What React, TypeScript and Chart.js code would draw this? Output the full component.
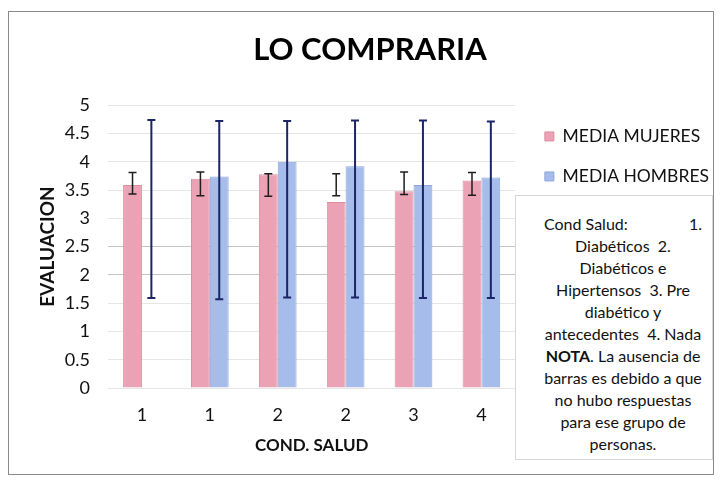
import React, { useEffect, useRef } from "react";
import { Chart, registerables } from "chart.js";

Chart.register(...registerables);

const categories = ["1", "1", "2", "2", "3", "4"];
const mediaMujeres = [3.59, 3.7, 3.78, 3.29, 3.48, 3.67];
const mediaHombres: (number | null)[] = [null, 3.74, 4.0, 3.92, 3.59, 3.72];
const errMujeresLow = [3.43, 3.4, 3.39, 3.4, 3.42, 3.41];
const errMujeresHigh = [3.81, 3.82, 3.79, 3.79, 3.82, 3.81];
const errHombresLow = [1.59, 1.57, 1.6, 1.6, 1.59, 1.59];
const errHombresHigh = [4.74, 4.72, 4.72, 4.73, 4.73, 4.71];
const yTicks = [0, 0.5, 1, 1.5, 2, 2.5, 3, 3.5, 4, 4.5, 5];

const FONT = "Lato, 'Open Sans', sans-serif";

const errorBarPlugin = {
  id: "errorBars",
  afterDatasetsDraw(chart: any) {
    const ctx = chart.ctx;
    const yScale = chart.scales.y;
    const xScale = chart.scales.x;
    const sets = [
      { low: errMujeresLow, high: errMujeresHigh, color: "#1e1e1e", width: 1.5 },
      { low: errHombresLow, high: errHombresHigh, color: "#1c2566", width: 2 },
    ];
    sets.forEach((s, di) => {
      const meta = chart.getDatasetMeta(di);
      s.low.forEach((lo, j) => {
        const el = meta.data[j];
        let x = el && isFinite(el.x) ? el.x : NaN;
        if (!isFinite(x)) {
          const w = el && isFinite(el.width) ? el.width : 19;
          x = xScale.getPixelForValue(j) + (di === 0 ? -w / 2 : w / 2);
        }
        const yLo = yScale.getPixelForValue(lo);
        const yHi = yScale.getPixelForValue(s.high[j]);
        ctx.save();
        ctx.strokeStyle = s.color;
        ctx.lineWidth = s.width;
        ctx.beginPath();
        ctx.moveTo(x, yLo);
        ctx.lineTo(x, yHi);
        ctx.moveTo(x - 4, yLo);
        ctx.lineTo(x + 4, yLo);
        ctx.moveTo(x - 4, yHi);
        ctx.lineTo(x + 4, yHi);
        ctx.stroke();
        ctx.restore();
      });
    });
  },
};

export default function App() {
  const ref = useRef<HTMLCanvasElement | null>(null);
  useEffect(() => {
    if (!ref.current) return;
    const chart = new Chart(ref.current, {
      type: "bar",
      data: {
        labels: categories,
        datasets: [
          {
            label: "MEDIA MUJERES",
            data: mediaMujeres,
            backgroundColor: "#eba2b4",
            borderColor: "#d98ea1",
            borderWidth: 1,
            yAxisID: "y",
          },
          {
            label: "MEDIA HOMBRES",
            data: mediaHombres,
            backgroundColor: "#a6bdeb",
            borderColor: "#8da6da",
            borderWidth: 1,
            yAxisID: "y",
          },
        ],
      },
      options: {
        responsive: false,
        animation: false,
        devicePixelRatio: 1,
        layout: { padding: { left: 21, right: 1, top: 12, bottom: 20 } },
        datasets: { bar: { categoryPercentage: 0.555, barPercentage: 1 } },
        plugins: {
          title: {
            display: true,
            text: "LO COMPRARIA",
            color: "#000",
            font: { family: FONT, size: 31, weight: "bold" },
            padding: { top: 19, bottom: 37 },
          },
          legend: {
            position: "right",
            align: "start",
            fullSize: false,
            maxWidth: 240,
            labels: {
              boxWidth: 9,
              boxHeight: 9,
              padding: 22.5,
              color: "#111",
              font: { family: FONT, size: 17.5 },
            },
          },
          tooltip: { enabled: false },
        },
        scales: {
          x: {
            grid: { display: false, drawTicks: false },
            border: { display: false },
            ticks: { color: "#111", padding: 16, font: { family: FONT, size: 18 } },
            title: {
              display: true,
              text: "COND. SALUD",
              color: "#111",
              font: { family: FONT, size: 17, weight: "bold" },
              padding: { top: 4, bottom: 8 },
            },
            afterFit: (s: any) => {
              s.height = 76;
            },
          },
          y: {
            min: 0,
            max: 5,
            afterBuildTicks: (s: any) => {
              s.ticks = yTicks.map((v) => ({ value: v }));
            },
            grid: {
              drawTicks: false,
              color: (c: any) =>
                c.tick && (c.tick.value === 2 || c.tick.value === 2.5) ? "#c4c4c4" : "#e6e6e6",
            },
            border: { display: false },
            ticks: {
              color: "#111",
              padding: 18,
              font: { family: FONT, size: 18 },
              callback: (v: any) => String(v),
            },
            title: {
              display: true,
              text: "EVALUACION",
              color: "#111",
              font: { family: FONT, size: 19, weight: "bold" },
              padding: { top: 15, bottom: 4 },
            },
            afterFit: (s: any) => {
              s.width = 87;
            },
          },
          gap: {
            type: "linear",
            position: "right",
            display: true,
            grid: { display: false, drawTicks: false },
            border: { display: false },
            ticks: { display: false },
            afterFit: (s: any) => {
              s.width = 7;
            },
          },
        },
      } as any,
      plugins: [errorBarPlugin],
    });
    return () => chart.destroy();
  }, []);

  const lineStyle: React.CSSProperties = { height: 22, lineHeight: "22px", whiteSpace: "nowrap" };

  return (
    <div style={{ position: "fixed", left: 0, top: 0, width: 720, height: 484, background: "#fff", overflow: "hidden" }}>
      <div
        style={{
          position: "absolute",
          left: 8,
          top: 11,
          width: 706,
          height: 464,
          border: "1px solid #8a8a8a",
          boxSizing: "border-box",
        }}
      />
      <canvas ref={ref} width={720} height={484} style={{ position: "absolute", left: 0, top: 0, width: 720, height: 484 }} />
      <div
        style={{
          position: "absolute",
          left: 515,
          top: 195,
          width: 198,
          height: 265,
          border: "1px solid #d6d6d6",
          boxSizing: "border-box",
          background: "#fff",
          fontFamily: FONT,
          fontSize: 16,
          color: "#111",
          textAlign: "center",
          padding: "17px 10px 0 28px",
        }}
      >
        <div style={{ ...lineStyle, display: "flex", justifyContent: "space-between" }}>
          <span>Cond Salud:</span>
          <span>1.</span>
        </div>
        <div style={lineStyle}>Diabéticos&nbsp; 2.</div>
        <div style={lineStyle}>Diabéticos e</div>
        <div style={lineStyle}>Hipertensos&nbsp; 3. Pre</div>
        <div style={lineStyle}>diabético y</div>
        <div style={lineStyle}>antecedentes&nbsp; 4. Nada</div>
        <div style={lineStyle}>
          <b>NOTA</b>. La ausencia de
        </div>
        <div style={lineStyle}>barras es debido a que</div>
        <div style={lineStyle}>no hubo respuestas</div>
        <div style={lineStyle}>para ese grupo de</div>
        <div style={lineStyle}>personas.</div>
      </div>
    </div>
  );
}
